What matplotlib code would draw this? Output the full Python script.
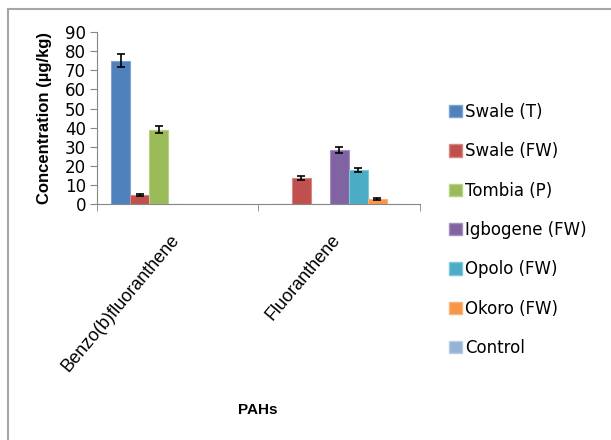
import numpy as np
import matplotlib
matplotlib.use("Agg")
import matplotlib.pyplot as plt
import matplotlib.transforms as mtransforms
from matplotlib.patches import Patch
from matplotlib.lines import Line2D

plt.rcParams['font.family'] = ['Liberation Sans', 'DejaVu Sans']

categories = ["Benzo(b)fluoranthene", "Fluoranthene"]
series = ["Swale (T)", "Swale (FW)", "Tombia (P)", "Igbogene (FW)",
          "Opolo (FW)", "Okoro (FW)", "Control"]
values = [
    [75, 0],      # Swale (T)
    [5, 13.5],    # Swale (FW)
    [39, 0],      # Tombia (P)
    [0, 28.5],    # Igbogene (FW)
    [0, 18],      # Opolo (FW)
    [0, 2.5],     # Okoro (FW)
    [0, 0],       # Control
]
errors = [
    [3.5, 0],
    [0.5, 1],
    [2, 0],
    [0, 1.5],
    [0, 1],
    [0, 0.5],
    [0, 0],
]
colors = ["#4F81BD", "#C0504D", "#9BBB59", "#8064A2", "#4BACC6", "#F79646", "#95B3D7"]
edges = ["#7fa3d3", "#d88784", "#b8d08a", "#a590bf", "#7ec6d8", "#f9b27e", "#b9cde6"]

fig = plt.figure(figsize=(6.11, 4.4), dpi=100)
ax = fig.add_axes([0.159, 0.536, 0.528, 0.391])

x = np.arange(len(categories))
w = 0.118
for i, name in enumerate(series):
    xs = x - 3 * w + i * w
    vals = np.array(values[i], dtype=float)
    errs = np.array(errors[i], dtype=float)
    ax.bar(xs, vals, width=w, color=colors[i], edgecolor=edges[i], linewidth=0.8, zorder=2)
    m = vals > 0
    ax.errorbar(xs[m], vals[m], yerr=errs[m], fmt="none", ecolor="black",
                elinewidth=1.2, capsize=3, capthick=1.2, zorder=3)

ax.set_xlim(-0.5, 1.5)
ax.set_ylim(0, 90)
ax.set_yticks(range(0, 91, 10))
ax.set_yticklabels([str(v) for v in range(0, 91, 10)], family="DejaVu Sans", fontsize=12)
ax.set_xticks(x)
ax.set_xticklabels([])
ax.set_xticks([-0.5, 0.5, 1.5], minor=True)
ax.tick_params(axis="x", which="major", length=0)
ax.tick_params(axis="x", which="minor", length=5, color="#868686", direction="out")
ax.tick_params(axis="y", length=5, color="#868686", pad=3)
for s in ["top", "right"]:
    ax.spines[s].set_visible(False)
for s in ["left", "bottom"]:
    ax.spines[s].set_color("#868686")

# category labels, slanted, ending just below each group centre
trans = ax.get_xaxis_transform() + mtransforms.ScaledTranslation(-0.08, -0.27, fig.dpi_scale_trans)
for xi, cat in zip(x, categories):
    ax.text(xi, 0, cat, transform=trans, rotation=50, ha="right", va="top",
            rotation_mode="anchor", fontsize=13, clip_on=False)

ax.set_ylabel("Concentration (\u00b5g/kg)", fontsize=12, fontweight="bold", labelpad=9)
fig.text(0.422, 0.068, "PAHs", fontsize=11, fontweight="bold", ha="center", va="center")

handles = [Patch(facecolor=c, edgecolor=e) for c, e in zip(colors, edges)]
fig.legend(handles, series, loc="upper left", bbox_to_anchor=(0.724, 0.781),
           frameon=False, prop={"family": "DejaVu Sans", "size": 12},
           handlelength=0.75, handleheight=0.75,
           handletextpad=0.2, labelspacing=1.28, borderaxespad=0)

# outer chart border
fig.add_artist(Line2D([8 / 611, 1], [1 - 9 / 440, 1 - 9 / 440], color="#a6a6a6", lw=1.5))
fig.add_artist(Line2D([8 / 611, 8 / 611], [0, 1 - 9 / 440], color="#a6a6a6", lw=1.5))

fig.savefig("out.png", dpi=100)
